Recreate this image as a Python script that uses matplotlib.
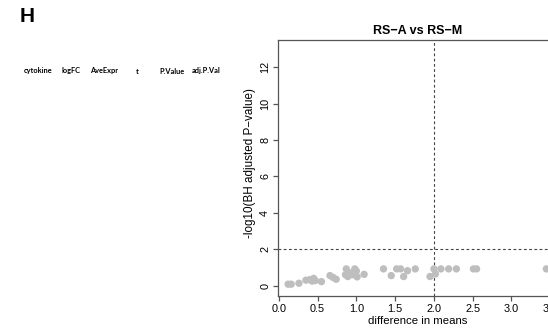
import matplotlib
matplotlib.use("Agg")
import matplotlib.pyplot as plt

plt.rcParams['font.family'] = ['Liberation Sans', 'DejaVu Sans']

# Table header (empty result table)
table_columns = ["cytokine", "logFC", "AveExpr", "t", "P.Value", "adj.P.Val"]

# Volcano-style points: difference in means vs -log10(BH adjusted P-value)
diff_means = [0.12, 0.16, 0.26, 0.35, 0.40, 0.43, 0.45, 0.47, 0.55, 0.66,
              0.70, 0.74, 0.87, 0.86, 0.89, 0.92, 0.95, 0.98, 1.00, 1.01,
              1.10, 1.35, 1.45, 1.52, 1.57, 1.61, 1.66, 1.76, 1.95, 2.00,
              2.02, 2.09, 2.19, 2.29, 2.51, 2.55, 3.45]
neg_log10_padj = [0.08, 0.08, 0.13, 0.30, 0.33, 0.25, 0.40, 0.28, 0.22, 0.55,
                  0.45, 0.35, 0.92, 0.60, 0.50, 0.70, 0.60, 0.92, 0.80, 0.48,
                  0.62, 0.92, 0.55, 0.92, 0.92, 0.50, 0.82, 0.92, 0.50, 0.92,
                  0.64, 0.92, 0.92, 0.92, 0.92, 0.92, 0.92]

x_ticks = [0.0, 0.5, 1.0, 1.5, 2.0, 2.5, 3.0, 3.5]
y_ticks = [0, 2, 4, 6, 8, 10, 12]
diff_cutoff = 2.0
sig_cutoff = 2.0

W, H = 548, 330
fig = plt.figure(figsize=(W / 100, H / 100), dpi=100)

# Panel letter
fig.text(20 / W, 1 - 16 / H, "H", fontsize=15, fontweight="bold",
         ha="left", va="center")

# Header row of the table
col_x = [37.7, 71, 104, 137.7, 172, 205.7]
for name, cx in zip(table_columns, col_x):
    fig.text(cx / W, 1 - 71 / H, name, fontsize=5.3, fontweight="bold",
             family=["Lato", "DejaVu Sans"], ha="center", va="center")

# Plot region (extends past the right edge of the figure)
left, right, top, bottom = 278, 558, 40, 296
ax = fig.add_axes([left / W, 1 - bottom / H, (right - left) / W, (bottom - top) / H])

ax.scatter(diff_means, neg_log10_padj, s=28, color="#bebebe", edgecolors="none",
           zorder=2)
ax.axvline(diff_cutoff, color="#444444", lw=0.8, linestyle=(0, (2.5, 2.2)), zorder=1)
ax.axhline(sig_cutoff, color="#444444", lw=0.8, linestyle=(0, (2.5, 2.2)), zorder=1)

ax.set_xlim(-0.01, 3.6)
ax.set_ylim(-0.57, 13.5)
ax.set_xticks(x_ticks)
ax.set_xticklabels([f"{v:.1f}" for v in x_ticks])
ax.set_yticks(y_ticks)
ax.set_yticklabels([str(v) for v in y_ticks], rotation=90, va="center")

for sp in ax.spines.values():
    sp.set_color("#555555")
    sp.set_linewidth(0.9)
ax.tick_params(direction="out", length=3.6, width=0.9, color="#555555",
               labelsize=7.8, pad=2)

ax.set_xlabel("difference in means", fontsize=8.2, labelpad=1.5)
ax.set_ylabel("-log10(BH adjusted P\u2212value)", fontsize=8.4)
ax.yaxis.set_label_coords(-0.077, 0.518)
ax.set_title("RS\u2212A vs RS\u2212M", fontsize=9, fontweight="bold", pad=4)

fig.savefig("out.png", dpi=100)
